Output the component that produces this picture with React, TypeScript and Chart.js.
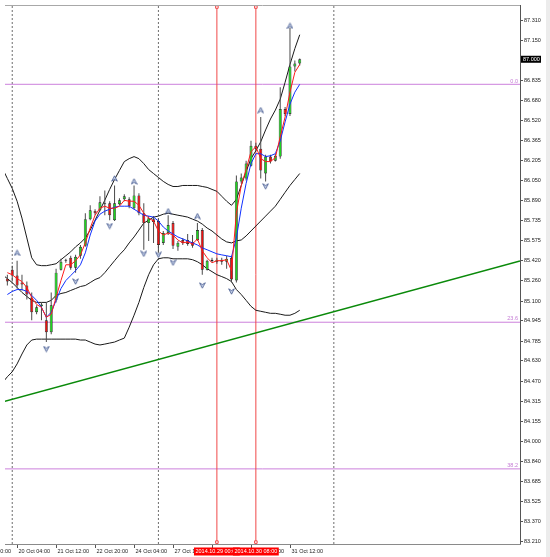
import React, { useEffect, useRef } from "react";
import { Chart, registerables } from "chart.js";

Chart.register(...registerables);

// ---- Data (H4 bars, bar index 0 = 20 Oct 2014 00:00) ----
const FIRST_BAR = -1;
const opens = [85.274, 85.344, 85.298, 85.243, 85.220, 85.126, 85.009, 85.056, 84.947, 84.853, 85.103, 85.344, 85.415, 85.438, 85.360, 85.454, 85.532, 85.742, 85.807, 85.812, 85.867, 85.867, 85.734, 85.859, 85.898, 85.898, 85.828, 85.929, 85.789, 85.711, 85.742, 85.727, 85.555, 85.633, 85.711, 85.524, 85.578, 85.578, 85.563, 85.578, 85.656, 85.344, 85.423, 85.407, 85.423, 85.407, 85.438, 85.259, 86.039, 86.062, 86.163, 86.319, 86.296, 86.101, 86.234, 86.202, 86.234, 86.608, 86.569, 86.943, 86.967];
const highs = [85.305, 85.376, 85.415, 85.305, 85.251, 85.165, 85.064, 85.087, 85.087, 85.165, 85.352, 85.430, 85.430, 85.454, 85.461, 85.539, 85.789, 85.851, 85.820, 85.922, 85.968, 85.883, 86.007, 85.906, 85.937, 85.914, 86.007, 85.945, 85.867, 85.766, 85.766, 85.750, 85.649, 85.773, 85.727, 85.571, 85.594, 85.625, 85.617, 85.711, 85.672, 85.423, 85.438, 85.438, 85.438, 85.454, 85.454, 86.085, 86.101, 86.202, 86.358, 86.343, 86.546, 86.249, 86.249, 86.257, 86.780, 86.624, 87.248, 86.990, 87.006];
const lows = [85.220, 85.251, 85.196, 85.181, 85.110, 84.947, 84.994, 84.947, 84.775, 84.837, 85.087, 85.337, 85.399, 85.344, 85.321, 85.430, 85.524, 85.734, 85.773, 85.805, 85.773, 85.734, 85.727, 85.851, 85.883, 85.828, 85.820, 85.773, 85.501, 85.571, 85.555, 85.477, 85.539, 85.617, 85.508, 85.493, 85.539, 85.532, 85.516, 85.571, 85.305, 85.337, 85.399, 85.391, 85.383, 85.352, 85.243, 85.243, 86.023, 86.046, 86.156, 86.280, 86.062, 86.039, 86.179, 86.195, 86.218, 86.553, 86.553, 86.904, 86.951];
const closes = [85.251, 85.298, 85.220, 85.227, 85.149, 85.009, 85.048, 85.071, 84.853, 85.064, 85.321, 85.407, 85.419, 85.360, 85.446, 85.524, 85.742, 85.812, 85.789, 85.875, 85.859, 85.773, 85.867, 85.890, 85.922, 85.844, 85.929, 85.789, 85.711, 85.750, 85.719, 85.539, 85.633, 85.695, 85.532, 85.555, 85.555, 85.547, 85.532, 85.656, 85.344, 85.415, 85.411, 85.423, 85.407, 85.430, 85.267, 86.039, 86.070, 86.179, 86.319, 86.296, 86.124, 86.234, 86.195, 86.241, 86.608, 86.569, 86.943, 86.967, 87.000];

// Bollinger bands (start at bar -2)
const BAND_FIRST_BAR = -2;
const bandUpper = [86.140, 86.062, 85.984, 85.883, 85.750, 85.594, 85.438, 85.383, 85.376, 85.376, 85.383, 85.391, 85.423, 85.454, 85.485, 85.524, 85.555, 85.594, 85.656, 85.734, 85.812, 85.891, 85.976, 86.054, 86.125, 86.195, 86.218, 86.234, 86.218, 86.179, 86.132, 86.101, 86.070, 86.039, 86.015, 85.999, 85.999, 86.007, 86.007, 86.007, 86.007, 85.999, 85.992, 85.976, 85.961, 85.922, 85.883, 85.851, 85.898, 86.007, 86.117, 86.218, 86.280, 86.351, 86.444, 86.530, 86.600, 86.686, 86.819, 86.959, 87.084, 87.193];
const bandMiddle = [85.305, 85.274, 85.243, 85.204, 85.165, 85.134, 85.103, 85.087, 85.087, 85.087, 85.103, 85.142, 85.157, 85.165, 85.181, 85.196, 85.212, 85.220, 85.243, 85.267, 85.282, 85.321, 85.368, 85.415, 85.461, 85.501, 85.555, 85.602, 85.656, 85.711, 85.734, 85.758, 85.766, 85.781, 85.789, 85.781, 85.773, 85.766, 85.758, 85.742, 85.727, 85.703, 85.672, 85.649, 85.617, 85.586, 85.563, 85.555, 85.571, 85.578, 85.610, 85.649, 85.688, 85.727, 85.766, 85.805, 85.844, 85.898, 85.953, 86.007, 86.054, 86.101];
const bandLower = [84.455, 84.502, 84.541, 84.603, 84.681, 84.752, 84.791, 84.798, 84.798, 84.798, 84.798, 84.798, 84.798, 84.798, 84.798, 84.798, 84.791, 84.791, 84.775, 84.759, 84.752, 84.759, 84.767, 84.775, 84.791, 84.806, 84.892, 84.986, 85.087, 85.204, 85.305, 85.383, 85.430, 85.438, 85.438, 85.430, 85.430, 85.430, 85.430, 85.423, 85.407, 85.383, 85.352, 85.329, 85.305, 85.290, 85.274, 85.251, 85.188, 85.149, 85.103, 85.056, 85.025, 85.017, 85.009, 85.001, 85.001, 84.994, 84.986, 84.986, 85.001, 85.025];

// Moving averages (start at bar -1)
const maSlow = [85.149, 85.173, 85.188, 85.188, 85.173, 85.142, 85.103, 85.048, 84.970, 85.009, 85.103, 85.196, 85.259, 85.298, 85.337, 85.383, 85.477, 85.617, 85.727, 85.781, 85.805, 85.820, 85.836, 85.844, 85.844, 85.844, 85.820, 85.797, 85.773, 85.766, 85.758, 85.727, 85.680, 85.649, 85.625, 85.602, 85.586, 85.571, 85.555, 85.539, 85.516, 85.501, 85.485, 85.469, 85.461, 85.454, 85.446, 85.594, 85.828, 86.023, 86.179, 86.257, 86.257, 86.234, 86.241, 86.257, 86.358, 86.507, 86.647, 86.741, 86.803];
const maFast = [85.321, 85.305, 85.274, 85.251, 85.204, 85.126, 85.071, 85.048, 84.970, 84.994, 85.126, 85.259, 85.383, 85.383, 85.415, 85.461, 85.555, 85.672, 85.773, 85.828, 85.844, 85.828, 85.828, 85.844, 85.890, 85.883, 85.883, 85.851, 85.789, 85.750, 85.727, 85.649, 85.617, 85.633, 85.617, 85.578, 85.555, 85.563, 85.547, 85.586, 85.493, 85.438, 85.399, 85.415, 85.415, 85.423, 85.337, 85.789, 86.007, 86.132, 86.273, 86.312, 86.218, 86.195, 86.195, 86.226, 86.390, 86.546, 86.741, 86.897, 86.959];

// Fractals
const upFractalBars = [1, 21, 25, 32, 38, 51, 57];
const upFractalPrices = [85.477, 86.062, 86.039, 85.805, 85.766, 86.600, 87.263];
const downFractalBars = [7, 13, 20, 27, 30, 33, 39, 45, 52];
const downFractalPrices = [84.720, 85.251, 85.688, 85.469, 85.461, 85.399, 85.220, 85.173, 86.000];

// Objects
const trendBars = [-1.5, 104.2];
const trendPrices = [84.309, 85.413];
const fibLabels = ["0.0", "23.6", "38.2"];
const fibPrices = [86.803, 84.931, 83.777];
const vLineBars = [42, 50];
const vLineLabels = ["2014.10.29 00:00", "2014.10.30 08:00"];
const vLineAnchorPrices = [83.201, 87.411];
const separatorBars = [0, 30, 66];
const currentPrice = 87.0;

// Axes
const priceTicks = ["87.310", "87.150", "87.000", "86.835", "86.680", "86.520", "86.365", "86.205", "86.050", "85.890", "85.735", "85.575", "85.420", "85.260", "85.100", "84.945", "84.785", "84.630", "84.470", "84.315", "84.155", "84.000", "83.840", "83.685", "83.525", "83.370", "83.210"];
const timeTickBars = [-7, 1, 9, 17, 25, 33, 41, 49, 57];
const timeTickLabels = ["16 Oct 20:00", "20 Oct 04:00", "21 Oct 12:00", "22 Oct 20:00", "24 Oct 04:00", "27 Oct 12:00", "28 Oct 20:00", "30 Oct 04:00", "31 Oct 12:00"];
const X_MIN = -1.484;
const X_MAX = 104.207;
const Y_MIN = 83.186;
const Y_MAX = 87.427;

const FONT = '5.5px "Liberation Sans", Arial, sans-serif';

function makeArrow(up: boolean): HTMLCanvasElement {
  const c = document.createElement("canvas");
  c.width = 7;
  c.height = 7;
  const g = c.getContext("2d")!;
  g.save();
  if (!up) {
    g.translate(0, 7);
    g.scale(1, -1);
  }
  g.beginPath();
  g.moveTo(3.5, 0.8);
  g.lineTo(6.3, 6.2);
  g.lineTo(3.5, 4.4);
  g.lineTo(0.7, 6.2);
  g.closePath();
  g.fillStyle = "#d2dcf0";
  g.fill();
  g.strokeStyle = "#3a4f88";
  g.lineWidth = 0.8;
  g.stroke();
  g.restore();
  return c;
}

const mt4Plugin = {
  id: "mt4Decor",
  beforeDraw(chart: any) {
    const { ctx } = chart;
    ctx.save();
    ctx.fillStyle = "#ffffff";
    ctx.fillRect(0, 0, chart.width, chart.height);
    ctx.restore();
  },
  afterDraw(chart: any) {
    const { ctx, chartArea: a, scales } = chart;
    const x = scales.x;
    const y = scales.y;
    ctx.save();
    // right strip
    ctx.fillStyle = "#ececec";
    ctx.fillRect(a.right + 26, 0, chart.width - a.right - 26, chart.height);
    // frame
    ctx.lineWidth = 1;
    ctx.strokeStyle = "#a8a8a8";
    ctx.beginPath();
    ctx.moveTo(a.left, a.top + 0.5);
    ctx.lineTo(a.right, a.top + 0.5);
    ctx.stroke();
    ctx.strokeStyle = "#555555";
    ctx.beginPath();
    ctx.moveTo(a.right + 0.5, a.top);
    ctx.lineTo(a.right + 0.5, a.bottom + 1);
    ctx.stroke();
    ctx.strokeStyle = "#8a8a8a";
    ctx.beginPath();
    ctx.moveTo(a.left, a.bottom + 0.5);
    ctx.lineTo(a.right + 1, a.bottom + 0.5);
    ctx.stroke();

    ctx.font = FONT;
    // price axis
    ctx.textAlign = "left";
    ctx.textBaseline = "middle";
    for (const t of priceTicks) {
      const py = Math.round(y.getPixelForValue(parseFloat(t))) + 0.5;
      ctx.strokeStyle = "#555555";
      ctx.beginPath();
      ctx.moveTo(a.right, py);
      ctx.lineTo(a.right + 3, py);
      ctx.stroke();
      ctx.fillStyle = "#202020";
      ctx.fillText(t, a.right + 4, py);
    }
    // current price label
    const cp = y.getPixelForValue(currentPrice);
    ctx.fillStyle = "#000000";
    ctx.fillRect(a.right + 1, cp - 3.5, 20, 7);
    ctx.fillStyle = "#ffffff";
    ctx.fillText(currentPrice.toFixed(3), a.right + 3, cp);

    // fib labels
    ctx.textAlign = "right";
    ctx.textBaseline = "bottom";
    ctx.fillStyle = "#c47ad4";
    fibPrices.forEach((p, k) => {
      const py = y.getPixelForValue(p);
      ctx.fillText(fibLabels[k], a.right - 2, py - 0.5);
    });

    // time axis
    ctx.textAlign = "left";
    ctx.textBaseline = "middle";
    timeTickBars.forEach((b, k) => {
      const px = Math.round(x.getPixelForValue(b)) + 0.5;
      ctx.strokeStyle = "#555555";
      ctx.beginPath();
      ctx.moveTo(px, a.bottom + 1);
      ctx.lineTo(px, a.bottom + 4);
      ctx.stroke();
      ctx.fillStyle = "#202020";
      ctx.fillText(timeTickLabels[k], px + 1, a.bottom + 7.5);
    });
    // vertical line labels
    ctx.textAlign = "center";
    vLineBars.forEach((b, k) => {
      const px = x.getPixelForValue(b);
      const w = ctx.measureText(vLineLabels[k]).width + 3;
      ctx.fillStyle = "#ff0000";
      ctx.fillRect(px - w / 2, a.bottom + 3.5, w, 8);
      ctx.fillStyle = "#ffffff";
      ctx.fillText(vLineLabels[k], px, a.bottom + 7.5);
    });
    ctx.restore();
  },
};

export default function App() {
  const ref = useRef<HTMLCanvasElement | null>(null);

  useEffect(() => {
    if (!ref.current) return;
    const upArrow = makeArrow(true);
    const downArrow = makeArrow(false);

    const line = (label: string, data: any[], color: string, width: number, order: number, extra: any = {}) => ({
      type: "line",
      label,
      data,
      borderColor: color,
      backgroundColor: color,
      borderWidth: width,
      pointRadius: 0,
      fill: false,
      tension: 0,
      order,
      ...extra,
    });

    const bandData = (arr: number[]) => arr.map((v, k) => ({ x: BAND_FIRST_BAR + k, y: v }));
    const barData = (arr: number[]) => arr.map((v, k) => ({ x: FIRST_BAR + k, y: v }));

    const datasets: any[] = [];
    separatorBars.forEach((b) =>
      datasets.push(line("sep", [{ x: b, y: Y_MIN }, { x: b, y: Y_MAX }], "#6e6e6e", 1, 20, { borderDash: [2, 2] }))
    );
    fibPrices.forEach((p, k) =>
      datasets.push(line("fib " + fibLabels[k], [{ x: X_MIN, y: p }, { x: X_MAX, y: p }], "#cc80dc", 1, 19))
    );
    vLineBars.forEach((b) =>
      datasets.push(
        line(
          "vline",
          [
            { x: b, y: Y_MIN },
            { x: b, y: vLineAnchorPrices[0] },
            { x: b, y: vLineAnchorPrices[1] },
            { x: b, y: Y_MAX },
          ],
          "#f04848",
          1,
          18,
          {
            pointRadius: [0, 1.8, 1.8, 0],
            pointStyle: "rect",
            pointBackgroundColor: "#ffffff",
            pointBorderColor: "#f04848",
            pointBorderWidth: 1,
          }
        )
      )
    );
    datasets.push(line("BB upper", bandData(bandUpper), "#1a1a1a", 1, 17));
    datasets.push(line("BB middle", bandData(bandMiddle), "#1a1a1a", 1, 17));
    datasets.push(line("BB lower", bandData(bandLower), "#1a1a1a", 1, 17));

    datasets.push({
      type: "bar",
      label: "wicks",
      data: lows.map((l, k) => ({ x: FIRST_BAR + k, y: [l, highs[k]] })),
      backgroundColor: "#4a4a4a",
      borderWidth: 0,
      maxBarThickness: 1,
      grouped: false,
      order: 16,
    });
    datasets.push({
      type: "bar",
      label: "bodies",
      data: opens.map((o, k) => ({ x: FIRST_BAR + k, y: [o, closes[k]] })),
      backgroundColor: opens.map((o, k) => (closes[k] >= o ? "#1ed21e" : "#e81010")),
      borderColor: "#1c1c1c",
      borderWidth: 0.7,
      borderSkipped: false,
      maxBarThickness: 3,
      minBarLength: 1,
      grouped: false,
      order: 15,
    });
    datasets.push(line("MA slow", barData(maSlow), "#1030ff", 1, 14));
    datasets.push(line("MA fast", barData(maFast), "#ff1a1a", 1, 13));
    datasets.push(
      line("trend", trendBars.map((b, k) => ({ x: b, y: trendPrices[k] })), "#0a8a0a", 1.5, 12)
    );
    datasets.push(
      line("fractal up", upFractalBars.map((b, k) => ({ x: b, y: upFractalPrices[k] })), "#3a4f88", 1, 11, {
        showLine: false,
        pointRadius: 3,
        pointStyle: upArrow,
      })
    );
    datasets.push(
      line("fractal down", downFractalBars.map((b, k) => ({ x: b, y: downFractalPrices[k] })), "#3a4f88", 1, 10, {
        showLine: false,
        pointRadius: 3,
        pointStyle: downArrow,
      })
    );

    const chart = new Chart(ref.current, {
      type: "line",
      data: { datasets },
      options: {
        responsive: false,
        animation: false,
        devicePixelRatio: 1,
        events: [],
        layout: { padding: { left: 0, top: 0, right: 30, bottom: 13 } },
        plugins: { legend: { display: false }, tooltip: { enabled: false }, title: { display: false } },
        scales: {
          x: { type: "linear", min: X_MIN, max: X_MAX, display: false, offset: false },
          y: { type: "linear", min: Y_MIN, max: Y_MAX, display: false, beginAtZero: false },
        },
      },
      plugins: [mt4Plugin],
    } as any);
    return () => chart.destroy();
  }, []);

  return (
    <div style={{ position: "fixed", left: 0, top: 0, width: 550, height: 557, background: "#fff" }}>
      <canvas ref={ref} width={550} height={557} style={{ display: "block" }} />
    </div>
  );
}
